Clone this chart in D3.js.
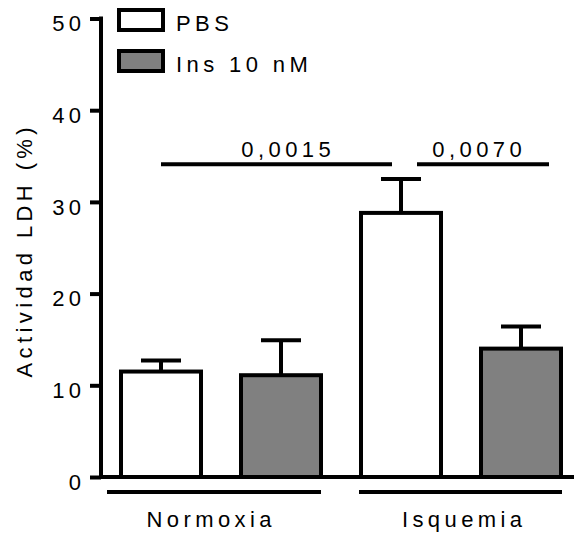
<!DOCTYPE html>
<html>
<head>
<meta charset="utf-8">
<script src="https://cdn.jsdelivr.net/npm/d3@7/dist/d3.min.js"></script>
<style>
  html, body { margin: 0; padding: 0; background: #fff; }
  svg { display: block; }
  text { font-family: "Liberation Sans", Arial, sans-serif; font-size: 22px; fill: #000; letter-spacing: 4.4px; }
</style>
</head>
<body>
<svg id="chart" width="574" height="533"></svg>
<script>
// LDH activity (%) by condition and treatment, mean + SEM
const groups = ["Normoxia", "Isquemia"];
const treatments = ["PBS", "Ins 10 nM"];
const treatmentFill = ["#ffffff", "#808080"];
const means = [[11.5, 11.1], [28.8, 14.0]];
const sems = [[1.2, 3.8], [3.7, 2.4]];
const yTicks = [0, 10, 20, 30, 40, 50];
// pairwise comparisons: [group, treatment] indices for each end, p-value label
const comparisons = [
  { a: [0, 0], b: [1, 0], label: "0,0015" },
  { a: [1, 0], b: [1, 1], label: "0,0070" }
];
const compLevel = 34.1;

const bars = [];
groups.forEach((g, gi) => treatments.forEach((t, ti) => {
  bars.push({ key: g + "|" + t, group: g, gi, ti, value: means[gi][ti], err: sems[gi][ti] });
}));

const svg = d3.select("#chart");
const stroke = 4;
const ls = 4.4;

const y = d3.scaleLinear().domain([0, 50]).range([477, 18.5]);
const x = d3.scaleBand().domain(bars.map(d => d.key)).range([101, 581])
  .paddingInner(1 / 3).paddingOuter(1 / 6);
const bw = x.bandwidth();
const keyOf = (gi, ti) => groups[gi] + "|" + treatments[ti];
const cx = (gi, ti) => x(keyOf(gi, ti)) + bw / 2;

// bars
svg.append("g").selectAll("rect").data(bars).join("rect")
  .attr("x", d => x(d.key))
  .attr("width", bw)
  .attr("y", d => y(d.value))
  .attr("height", d => y(0) - y(d.value))
  .attr("fill", d => treatmentFill[d.ti])
  .attr("stroke", "#000")
  .attr("stroke-width", stroke);

// error bars (upper only)
const eb = svg.append("g").attr("stroke", "#000").attr("stroke-width", stroke);
bars.forEach(d => {
  const c = x(d.key) + bw / 2;
  eb.append("line").attr("x1", c).attr("x2", c)
    .attr("y1", y(d.value)).attr("y2", y(d.value + d.err));
  eb.append("line").attr("x1", c - bw / 4).attr("x2", c + bw / 4)
    .attr("y1", y(d.value + d.err)).attr("y2", y(d.value + d.err));
});

// y axis
const yAxis = d3.axisLeft(y).tickValues(yTicks).tickSize(11).tickPadding(9).tickFormat(d3.format("d"));
const ga = svg.append("g").attr("transform", "translate(101,0)").call(yAxis);
ga.select(".domain").attr("stroke", "#000").attr("stroke-width", stroke)
  .attr("d", `M0,${y(50) - 2}V${y(0)}`);
ga.selectAll(".tick line").attr("stroke", "#000").attr("stroke-width", stroke);
ga.selectAll(".tick text").attr("font-size", 22).attr("fill", "#000")
  .attr("dx", ls).attr("dy", "0.55em")
  .style("font-family", "'Liberation Sans', Arial, sans-serif");

// x axis baseline
svg.append("line").attr("x1", 99).attr("x2", 574)
  .attr("y1", y(0)).attr("y2", y(0))
  .attr("stroke", "#000").attr("stroke-width", stroke);

// group underlines and labels
const groupSpan = [
  [x(keyOf(0, 0)) - 14, x(keyOf(0, 1)) + bw],
  [x(keyOf(1, 0)) - 2, x(keyOf(1, 1)) + bw + 1]
];
const groupLabelShift = [-12, 1];
groups.forEach((g, gi) => {
  svg.append("line").attr("x1", groupSpan[gi][0]).attr("x2", groupSpan[gi][1])
    .attr("y1", 492).attr("y2", 492)
    .attr("stroke", "#000").attr("stroke-width", stroke);
  const mid = (cx(gi, 0) + cx(gi, 1)) / 2;
  svg.append("text").attr("x", mid + groupLabelShift[gi] + ls / 2).attr("y", 527)
    .attr("text-anchor", "middle").text(g);
});

// y axis title
svg.append("text")
  .attr("transform", `translate(32,${248 + ls / 2}) rotate(-90)`)
  .attr("text-anchor", "middle")
  .text("Actividad LDH (%)");

// comparison brackets
const compSpan = [
  [cx(0, 0), cx(1, 0) - 9],
  [cx(1, 0) + 16, cx(1, 1) + 28]
];
const compTextX = [286, 477];
comparisons.forEach((c, i) => {
  svg.append("line").attr("x1", compSpan[i][0]).attr("x2", compSpan[i][1])
    .attr("y1", y(compLevel)).attr("y2", y(compLevel))
    .attr("stroke", "#000").attr("stroke-width", stroke);
  svg.append("text").attr("x", compTextX[i] + ls / 2).attr("y", y(compLevel) - 7)
    .attr("text-anchor", "middle").text(c.label);
});

// legend
const lg = svg.append("g");
treatments.forEach((t, i) => {
  const top = 10 + i * 41;
  lg.append("rect").attr("x", 119).attr("y", top).attr("width", 44).attr("height", 20)
    .attr("fill", treatmentFill[i]).attr("stroke", "#000").attr("stroke-width", stroke);
  lg.append("text").attr("x", 176).attr("y", top + 21).text(t);
});
</script>
</body>
</html>
